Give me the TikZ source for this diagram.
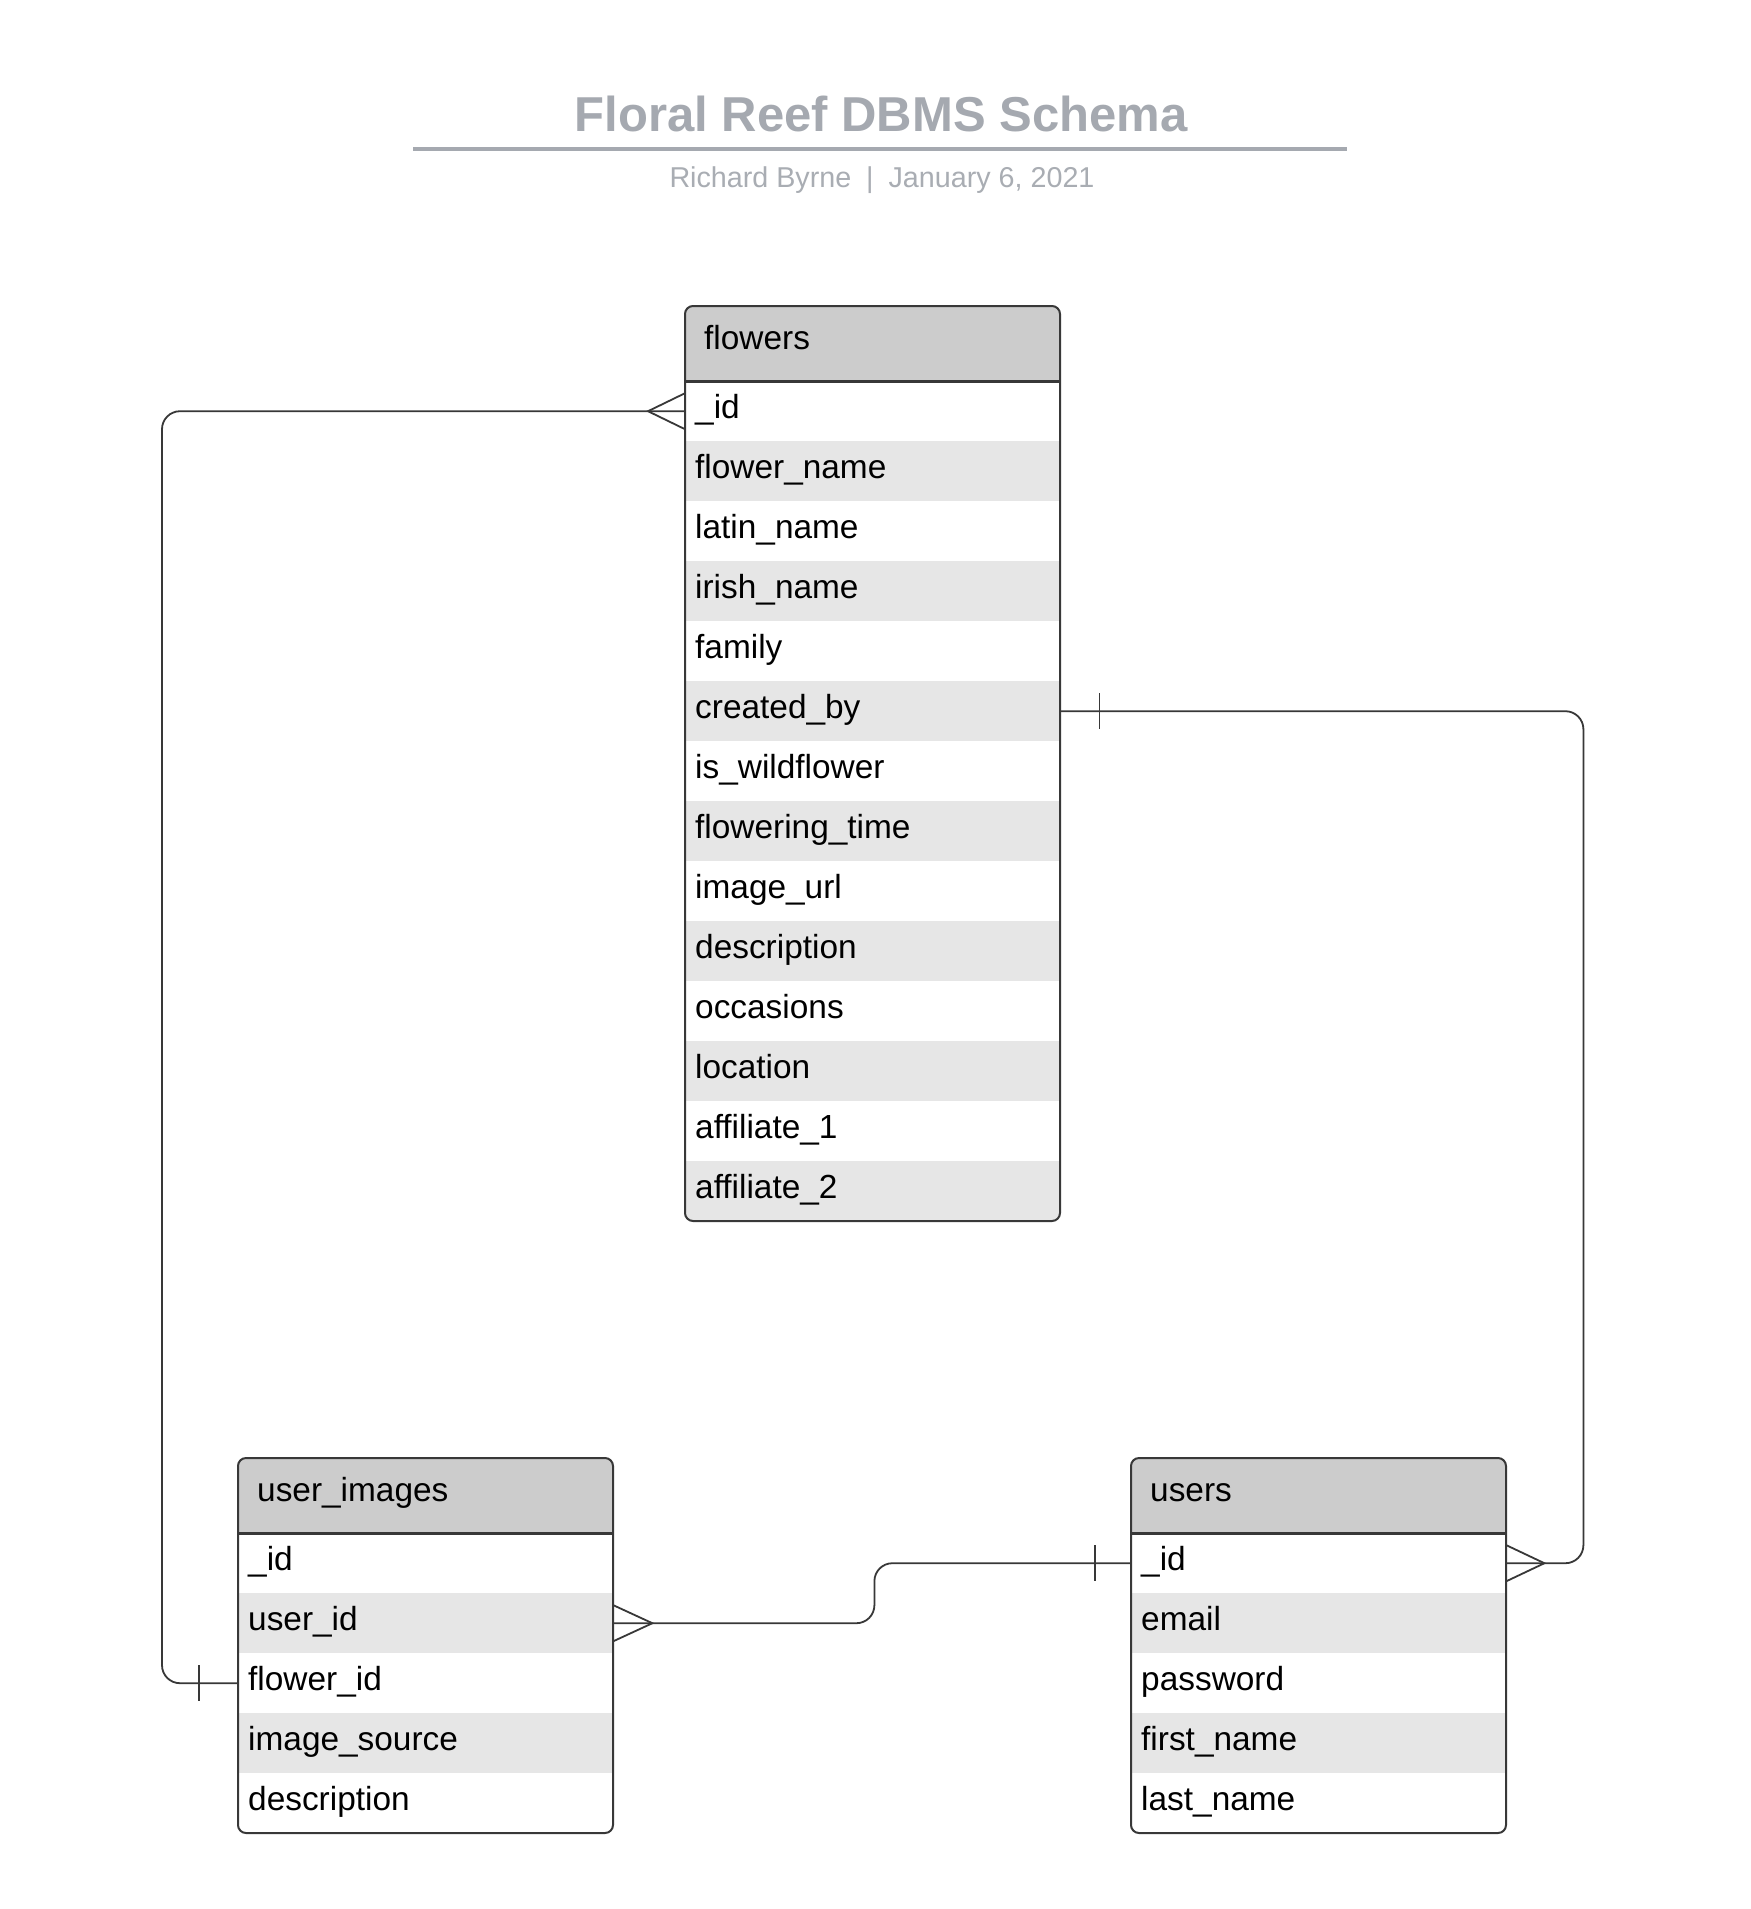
\documentclass[tikz,border=0pt]{standalone}
\usepackage{fontspec}
\setmainfont{Liberation Sans}
\definecolor{hdr}{HTML}{CCCCCC}
\definecolor{alt}{HTML}{E6E6E6}
\definecolor{edge}{HTML}{383838}
\definecolor{ttl}{HTML}{A5A9B0}
\definecolor{sub}{HTML}{A9ADB3}
\newcommand\rowfont{\fontsize{33.4}{40}\selectfont}
\tikzset{
  tblcell/.style={anchor=north west, minimum height=60pt, text width=355pt, inner xsep=10pt, inner ysep=0pt, align=left, text height=24pt, text depth=9pt, font=\rowfont},
  hdrcell/.style={anchor=north west, minimum height=75pt, text width=337pt, inner xsep=19pt, inner ysep=0pt, align=left, text height=24pt, text depth=12pt, fill=hdr, font=\rowfont},
  whiterow/.style={tblcell, fill=white},
  grayrow/.style={tblcell, fill=alt},
  conn/.style={draw=edge, line width=1.8pt},
  frame/.style={draw=edge, line width=2pt, rounded corners=8pt},
  sepline/.style={draw=edge, line width=2.4pt},
}
\begin{document}
\begin{tikzpicture}[x=1pt,y=-1pt]
\useasboundingbox[fill=white] (0,0) rectangle (1751,1909);

% title
\node[anchor=base, inner sep=0pt, text=ttl, font=\fontsize{49}{58}\selectfont\bfseries] (title) at (881,131.5) {Floral Reef DBMS Schema};
\draw[ttl, line width=4pt] (413,148.5) -- (1347,148.5);
\node[anchor=base, inner sep=0pt, text=sub, font=\fontsize{28.7}{35}\selectfont] (subtitle) at (882,187) {Richard Byrne\hspace{0.52em}|\hspace{0.52em}January 6, 2021};

% flowers table
\begin{scope}
\clip[rounded corners=8pt] (685,306) rectangle ++(375,915);
\node[hdrcell] (fh) at (685,306) {flowers};
\node[whiterow] (f1) at (685,381) {\_id};
\node[grayrow] (f2) at (685,441) {flower\_name};
\node[whiterow] (f3) at (685,501) {latin\_name};
\node[grayrow] (f4) at (685,561) {irish\_name};
\node[whiterow] (f5) at (685,621) {family};
\node[grayrow] (f6) at (685,681) {created\_by};
\node[whiterow] (f7) at (685,741) {is\_wildflower};
\node[grayrow] (f8) at (685,801) {flowering\_time};
\node[whiterow] (f9) at (685,861) {image\_url};
\node[grayrow] (f10) at (685,921) {description};
\node[whiterow] (f11) at (685,981) {occasions};
\node[grayrow] (f12) at (685,1041) {location};
\node[whiterow] (f13) at (685,1101) {affiliate\_1};
\node[grayrow] (f14) at (685,1161) {affiliate\_2};
\end{scope}
\draw[frame] (685,306) rectangle ++(375,915);
\draw[sepline] (fh.south west) -- (fh.south east);

% user_images table
\begin{scope}
\clip[rounded corners=8pt] (238,1458) rectangle ++(375,375);
\node[hdrcell] (uih) at (238,1458) {user\_images};
\node[whiterow] (ui1) at (238,1533) {\_id};
\node[grayrow] (ui2) at (238,1593) {user\_id};
\node[whiterow] (ui3) at (238,1653) {flower\_id};
\node[grayrow] (ui4) at (238,1713) {image\_source};
\node[whiterow] (ui5) at (238,1773) {description};
\end{scope}
\draw[frame] (238,1458) rectangle ++(375,375);
\draw[sepline] (uih.south west) -- (uih.south east);

% users table
\begin{scope}
\clip[rounded corners=8pt] (1131,1458) rectangle ++(375,375);
\node[hdrcell] (uh) at (1131,1458) {users};
\node[whiterow] (u1) at (1131,1533) {\_id};
\node[grayrow] (u2) at (1131,1593) {email};
\node[whiterow] (u3) at (1131,1653) {password};
\node[grayrow] (u4) at (1131,1713) {first\_name};
\node[whiterow] (u5) at (1131,1773) {last\_name};
\end{scope}
\draw[frame] (1131,1458) rectangle ++(375,375);
\draw[sepline] (uh.south west) -- (uh.south east);

% connector: flowers._id  (many)  --  user_images.flower_id (one)
\draw[conn, rounded corners=18pt] (f1.west) -- ++(-523,0) |- (ui3.west);
\draw[conn] (f1.west) ++(0,-18) -- ++(-37,18) -- ++(37,18);
\draw[conn] (ui3.west) ++(-39,-18) -- ++(0,36);

% connector: flowers.created_by (one) -- users._id (many)
\draw[conn, rounded corners=18pt] (f6.east) -- ++(523,0) |- (u1.east);
\draw[conn] (f6.east) ++(39,-18) -- ++(0,36);
\draw[conn] (u1.east) ++(0,-18) -- ++(38,18) -- ++(-38,18);

% connector: user_images.user_id (many) -- users._id (one)
\draw[conn, rounded corners=18pt] (ui2.east) -- ++(261,0) |- (u1.west);
\draw[conn] (ui2.east) ++(0,-18) -- ++(39,18) -- ++(-39,18);
\draw[conn] (u1.west) ++(-36,-18) -- ++(0,36);
\end{tikzpicture}
\end{document}
